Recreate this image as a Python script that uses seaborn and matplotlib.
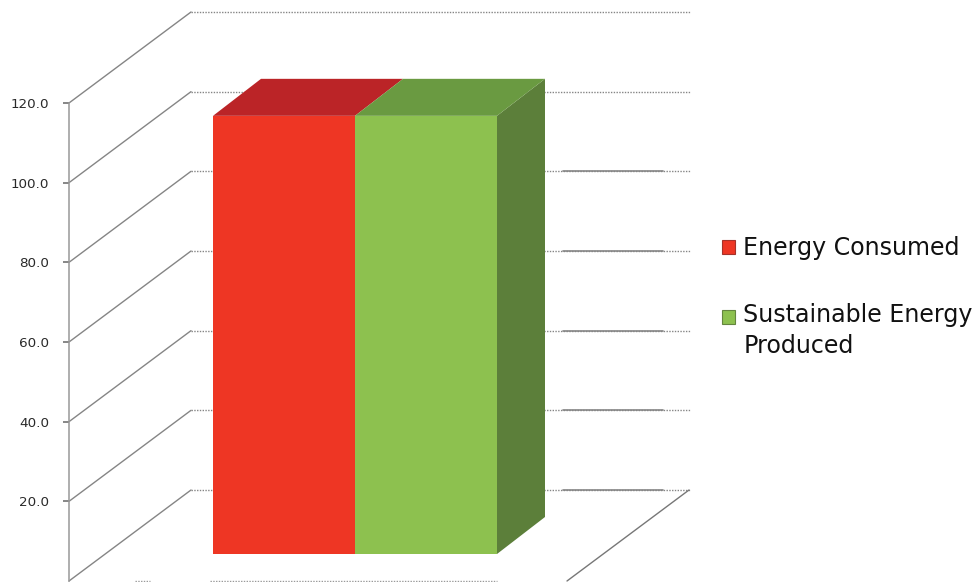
import numpy as np
import pandas as pd
import matplotlib
matplotlib.use("Agg")
import matplotlib.pyplot as plt
from matplotlib.patches import Polygon, Patch, Rectangle
from matplotlib.lines import Line2D
from matplotlib.legend_handler import HandlerPatch
from matplotlib.transforms import IdentityTransform
import seaborn as sns

# ---- data ----
series_names = ["Energy Consumed", "Sustainable Energy Produced"]
series_values = [110.0, 110.0]
tick_values = [20, 40, 60, 80, 100, 120]
tick_labels = ["20.0", "40.0", "60.0", "80.0", "100.0", "120.0"]
grid_values = [0, 20, 40, 60, 80, 100, 120]

# ---- styling ----
front_colors = ["#EE3624", "#8DC14F"]
top_colors = ["#BB2427", "#6A9A41"]
side_color = "#5C7F3A"
legend_labels = ["Energy Consumed", "Sustainable Energy\nProduced"]
legend_edges = ["#A5322A", "#64853F"]
line_color = "#858585"

W, H = 980, 582
WALL_DEPTH = np.array([122.0, 91.0])
BAR_DEPTH = np.array([48.0, 37.0])
BACK_WIDTH = 499.0

sns.set_theme(style="ticks")
plt.rcParams["font.family"] = ["DejaVu Sans"]

fig = plt.figure(figsize=(W / 100, H / 100), dpi=100, facecolor="white")

# Front plane of the chart box carries the value axis.
ax = fig.add_axes([69 / W, 1 / H, 498 / W, 478 / H])
ax.set_xlim(0, 1)
ax.set_ylim(0, 120)
ax.patch.set_alpha(0)
for side in ["top", "right", "bottom"]:
    ax.spines[side].set_visible(False)
ax.spines["left"].set_color("#999999")
ax.spines["left"].set_linewidth(1.1)
ax.spines["left"].set_linestyle((0, (1, 1)))
ax.set_xticks([])
ax.set_yticks(tick_values)
ax.set_yticklabels(tick_labels)
ax.tick_params(axis="y", left=True, length=4.3, width=1.1, color="#666666",
               pad=10, labelsize=9.7, labelcolor="#2A2A2A")

identity = IdentityTransform()

for v in grid_values:
    p0 = ax.transData.transform((0, v))
    p1 = p0 + WALL_DEPTH
    p2 = p1 + np.array([BACK_WIDTH, 0])
    ax.add_line(Line2D([p0[0], p1[0]], [p0[1], p1[1]], transform=identity,
                       color=line_color, lw=1.0, clip_on=False, zorder=1))
    ax.add_line(Line2D([p1[0], p2[0]], [p1[1], p2[1]], transform=identity,
                       color=line_color, lw=1.0, ls=(0, (1, 1)),
                       clip_on=False, zorder=1))
    if v <= 80:
        ax.add_line(Line2D([p1[0] + 372, p1[0] + 472], [p1[1], p1[1]],
                           transform=identity, color=line_color, lw=1.2,
                           clip_on=False, zorder=1))

# Floor: right edge and the visible scraps of the front edge.
f0 = ax.transData.transform((1, 0))
f1 = f0 + WALL_DEPTH
ax.add_line(Line2D([f0[0], f1[0]], [f0[1], f1[1]], transform=identity,
                   color="#777777", lw=1.0, clip_on=False, zorder=1))
b0 = ax.transData.transform((0, 0))
for a, b in [(66, 81), (141, 428)]:
    ax.add_line(Line2D([b0[0] + a, b0[0] + b], [b0[1], b0[1]], transform=identity,
                       color="#999999", lw=1.0, ls=(0, (1, 1)),
                       clip_on=False, zorder=1))

# Bars, sitting part-way back on the floor.
df = pd.DataFrame({"source": series_names, "value": series_values})
ax_bar = fig.add_axes([213 / W, (H - 554) / H, 284 / W, 478 / H])
ax_bar.patch.set_alpha(0)
sns.barplot(data=df, x="source", y="value", hue="source",
            palette=dict(zip(series_names, front_colors)), width=1.0,
            saturation=1.0, legend=False, ax=ax_bar, linewidth=0)
ax_bar.set_xlim(-0.5, 1.5)
ax_bar.set_ylim(0, 120)
ax_bar.axis("off")

bars = list(ax_bar.patches)
for i, (patch, top_c) in enumerate(zip(bars, top_colors)):
    patch.set_zorder(5)
    x0, x1 = patch.get_x(), patch.get_x() + patch.get_width()
    y0, y1 = patch.get_y(), patch.get_y() + patch.get_height()
    tl, tr, br = ax_bar.transData.transform([(x0, y1), (x1, y1), (x1, y0)])
    if i == len(bars) - 1:
        ax_bar.add_patch(Polygon([br, tr, tr + BAR_DEPTH, br + BAR_DEPTH],
                                 closed=True, transform=identity,
                                 facecolor=side_color, edgecolor="none",
                                 clip_on=False, zorder=2))
    ax_bar.add_patch(Polygon([tl, tr, tr + BAR_DEPTH, tl + BAR_DEPTH],
                             closed=True, transform=identity, facecolor=top_c,
                             edgecolor="none", clip_on=False, zorder=3))


class FirstLineHandler(HandlerPatch):
    """Legend key level with the first line of a wrapped label."""

    def create_artists(self, legend, orig_handle, xdescent, ydescent, width,
                       height, fontsize, trans):
        lift = 10.5 * orig_handle.get_label().count("\n")
        rect = Rectangle((-xdescent, -ydescent + lift), width, height,
                         facecolor=orig_handle.get_facecolor(),
                         edgecolor=orig_handle.get_edgecolor(),
                         linewidth=orig_handle.get_linewidth(), transform=trans)
        return [rect]


handles = [Patch(facecolor=c, edgecolor=e, linewidth=0.8, label=l)
           for c, e, l in zip(front_colors, legend_edges, legend_labels)]
leg = fig.legend(handles=handles, loc="upper left",
                 bbox_to_anchor=(722 / W, (H - 236) / H),
                 frameon=False, fontsize=17.1, handlelength=0.54, handleheight=0.54,
                 handletextpad=0.35, labelspacing=1.83, borderpad=0, borderaxespad=0,
                 labelcolor="#111111",
                 handler_map={Patch: FirstLineHandler()})
for t in leg.get_texts():
    t.set_linespacing(1.34)

fig.savefig("out.png", dpi=100, facecolor="white")
